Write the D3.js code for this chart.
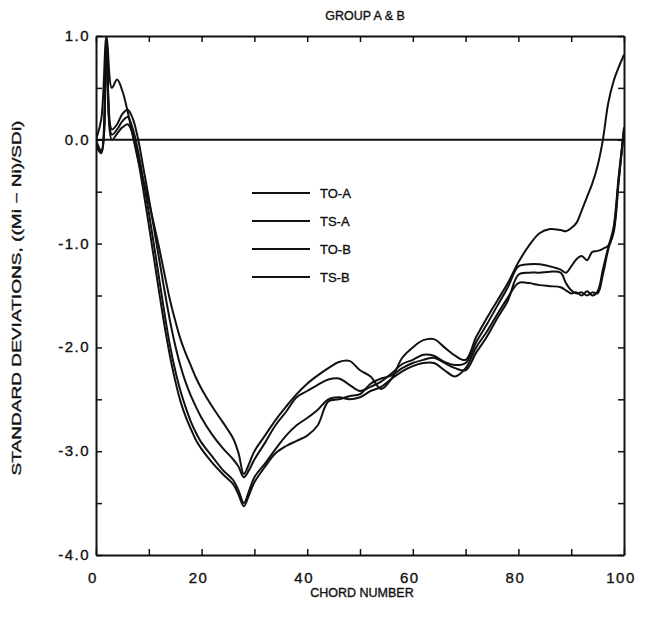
<!DOCTYPE html>
<html><head><meta charset="utf-8">
<script src="https://cdn.jsdelivr.net/npm/d3@7"></script>
<style>
html,body{margin:0;padding:0;background:#fff;}
text{font-family:"Liberation Sans",Arial,Helvetica,sans-serif;fill:#111;stroke:#111;stroke-width:0.35;}
</style></head>
<body>
<svg id="chart" width="646" height="626"></svg>
<script>
const chord = [0,1,2,3,4,5,6,7,8,9,10,11,12,13,14,15,16,17,18,19,20,22,24,26,27,28,29,30,32,34,36,38,40,42,44,46,48,50,52,54,56,58,60,62,64,66,68,70,72,74,76,78,80,82,84,86,88,89,90,91,92,93,94,95,96,97,98,99,100];

const toA = [0.0,0.2,1.0,0.5,0.58,0.47,0.27,0.03,-0.2,-0.4,-0.6,-0.82,-1.05,-1.3,-1.54,-1.74,-1.92,-2.06,-2.18,-2.3,-2.4,-2.57,-2.72,-2.88,-3.02,-3.22,-3.12,-3.0,-2.85,-2.7,-2.57,-2.45,-2.35,-2.27,-2.2,-2.14,-2.13,-2.22,-2.28,-2.4,-2.3,-2.1,-2.0,-1.93,-1.92,-2.0,-2.08,-2.12,-1.9,-1.72,-1.55,-1.38,-1.18,-1.02,-0.9,-0.86,-0.87,-0.88,-0.85,-0.8,-0.68,-0.55,-0.42,-0.25,0.0,0.35,0.56,0.7,0.82];

const tsA = [-0.05,-0.12,0.95,0.1,0.15,0.25,0.29,0.2,0.0,-0.28,-0.56,-0.86,-1.16,-1.46,-1.74,-1.98,-2.18,-2.34,-2.47,-2.58,-2.68,-2.84,-2.97,-3.08,-3.15,-3.25,-3.18,-3.08,-2.92,-2.75,-2.62,-2.48,-2.42,-2.36,-2.31,-2.3,-2.36,-2.42,-2.38,-2.33,-2.25,-2.16,-2.12,-2.07,-2.08,-2.14,-2.17,-2.15,-1.95,-1.78,-1.6,-1.42,-1.22,-1.2,-1.2,-1.22,-1.25,-1.28,-1.22,-1.15,-1.12,-1.16,-1.08,-1.07,-1.05,-1.02,-0.9,-0.4,0.12];

const toB = [0.0,-0.1,0.85,0.05,0.1,0.18,0.22,0.1,-0.12,-0.4,-0.7,-1.02,-1.35,-1.68,-1.98,-2.22,-2.42,-2.58,-2.72,-2.83,-2.92,-3.05,-3.18,-3.28,-3.38,-3.5,-3.38,-3.25,-3.12,-2.98,-2.85,-2.75,-2.68,-2.6,-2.5,-2.48,-2.5,-2.48,-2.42,-2.38,-2.3,-2.23,-2.18,-2.15,-2.15,-2.22,-2.28,-2.2,-2.0,-1.85,-1.68,-1.52,-1.38,-1.38,-1.4,-1.41,-1.42,-1.45,-1.48,-1.47,-1.5,-1.46,-1.5,-1.46,-1.25,-1.04,-0.85,-0.35,0.1];

const tsB = [-0.05,-0.13,0.9,0.0,0.06,0.12,0.15,0.05,-0.2,-0.5,-0.82,-1.15,-1.48,-1.8,-2.08,-2.32,-2.52,-2.67,-2.79,-2.9,-2.98,-3.11,-3.22,-3.32,-3.42,-3.53,-3.42,-3.3,-3.15,-3.02,-2.95,-2.9,-2.85,-2.75,-2.52,-2.5,-2.47,-2.45,-2.35,-2.3,-2.27,-2.2,-2.15,-2.12,-2.1,-2.15,-2.2,-2.22,-2.05,-1.9,-1.72,-1.55,-1.3,-1.28,-1.28,-1.27,-1.28,-1.38,-1.45,-1.48,-1.47,-1.5,-1.47,-1.48,-1.3,-1.06,-0.88,-0.38,0.08];

const seriesNames = ["TO-A","TS-A","TO-B","TS-B"];
const seriesValues = [toA, tsA, toB, tsB];
const xTicks = [0,20,40,60,80,100];
const yTicks = [1,0,-1,-2,-3,-4];
const title = "GROUP A & B";
const xLabel = "CHORD NUMBER";
const yLabel = "STANDARD DEVIATIONS, ((Mi \u2212 Ni)/SDi)";

const svg = d3.select("#chart");
const L = 96, R = 624, T = 36, B = 555;
const x = d3.scaleLinear().domain([0,100]).range([L,R]);
const y = d3.scaleLinear().domain([-4,1]).range([B,T]);

// zero line
svg.append("line").attr("x1",L).attr("x2",R).attr("y1",y(0)).attr("y2",y(0))
  .attr("stroke","#111").attr("stroke-width",2);

// data lines
const line = d3.line().x((d,i)=>x(chord[i])).y(d=>y(d)).curve(d3.curveCatmullRom.alpha(0.5));
svg.append("clipPath").attr("id","clip").append("rect")
  .attr("x",L).attr("y",T).attr("width",R-L).attr("height",B-T);
svg.append("g").attr("clip-path","url(#clip)").selectAll("path").data(seriesValues).join("path")
  .attr("d",d=>line(d)).attr("fill","none").attr("stroke","#111").attr("stroke-width",2)
  .attr("stroke-linejoin","round");

// axes (ticks inward)
const gBottom = svg.append("g").attr("transform",`translate(0,${B})`)
  .call(d3.axisBottom(x).tickValues(d3.range(0,101,10)).tickSizeInner(-6).tickSizeOuter(0).tickFormat(""));
const gTop = svg.append("g").attr("transform",`translate(0,${T})`)
  .call(d3.axisTop(x).tickValues(d3.range(0,101,10)).tickSizeInner(-6).tickSizeOuter(0).tickFormat(""));
const gLeft = svg.append("g").attr("transform",`translate(${L},0)`)
  .call(d3.axisLeft(y).tickValues(d3.range(-4,1.01,0.5)).tickSizeInner(-6).tickSizeOuter(0).tickFormat(""));
const gRight = svg.append("g").attr("transform",`translate(${R},0)`)
  .call(d3.axisRight(y).tickValues(d3.range(-4,1.01,0.5)).tickSizeInner(-6).tickSizeOuter(0).tickFormat(""));
[gBottom,gTop,gLeft,gRight].forEach(g=>{
  g.selectAll("path").attr("stroke","#111").attr("stroke-width",2);
  g.selectAll("line").attr("stroke","#111").attr("stroke-width",1.5);
});

// tick labels
svg.append("g").selectAll("text").data(xTicks).join("text")
  .attr("x",d=>x(d)-3).attr("y",583).attr("text-anchor","middle")
  .attr("font-size",15).attr("letter-spacing",1.5).text(d=>d);
svg.append("g").selectAll("text").data(yTicks).join("text")
  .attr("x",90).attr("y",d=>y(d)+5).attr("text-anchor","end")
  .attr("font-size",15).attr("letter-spacing",1.5).text(d=>d3.format(".1f")(d).replace("\u2212","-"));

// titles
svg.append("text").attr("x",365).attr("y",20).attr("text-anchor","middle").attr("font-size",12.5).text(title);
svg.append("text").attr("x",362).attr("y",597).attr("text-anchor","middle").attr("font-size",12.5).text(xLabel);
svg.append("text").attr("transform","translate(21,298) rotate(-90)").attr("text-anchor","middle")
  .attr("font-size",12.5).attr("textLength",355).attr("lengthAdjust","spacingAndGlyphs").text(yLabel);

// legend
const lg = svg.append("g").selectAll("g").data(seriesNames).join("g")
  .attr("transform",(d,i)=>`translate(0,${193+i*28})`);
lg.append("line").attr("x1",252).attr("x2",310).attr("y1",0).attr("y2",0)
  .attr("stroke","#111").attr("stroke-width",2.2);
lg.append("text").attr("x",320).attr("y",5).attr("font-size",13).text(d=>d);
</script>
</body></html>
